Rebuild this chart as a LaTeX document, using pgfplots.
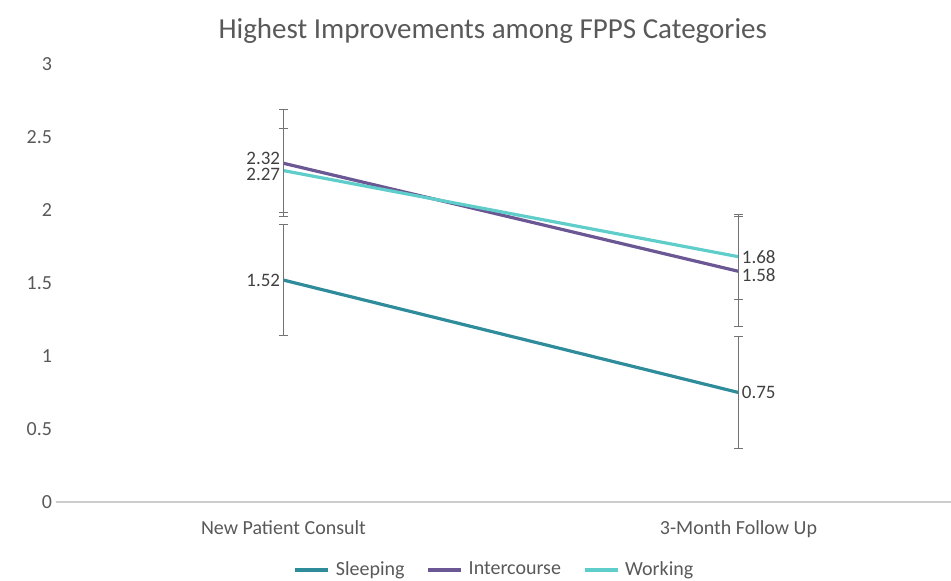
\documentclass[border=0pt]{standalone}
\usepackage{pgfplots}
\pgfplotsset{compat=1.18}
\usepackage{fontspec}
\setmainfont{Carlito}
\definecolor{cSleep}{HTML}{2F8C9B}
\definecolor{cInter}{HTML}{6B5794}
\definecolor{cWork}{HTML}{5FCDCA}
\definecolor{txt}{HTML}{595959}
\definecolor{lbl}{HTML}{404040}
\begin{document}
\begin{tikzpicture}
\useasboundingbox (-28pt,-39pt) rectangle (447.5pt,251pt);
\begin{axis}[
  at={(0,0)}, anchor=south west,
  scale only axis, width=447.5pt, height=219pt,
  xmin=-0.5, xmax=1.467, ymin=0, ymax=3,
  xtick={0,1}, xticklabels={New Patient Consult,3-Month Follow Up},
  ytick={0,0.5,...,3},
  yticklabels={0,0.5,1,1.5,2,2.5,3},
  axis x line*=bottom, axis y line*=left,
  x axis line style={draw=black!20, line width=0.6pt, -},
  y axis line style={draw=none},
  major tick length=0pt,
  ticklabel style={font=\fontsize{10}{11}\selectfont, text=txt},
  yticklabel style={xshift=1.5pt},
  xticklabel style={yshift=-6pt},
  /pgf/number format/assume math mode=true,
  title={Highest Improvements among FPPS Categories},
  title style={at={(axis description cs:0.488,1.048)}, anchor=center, font=\fontsize{14.5}{16}\selectfont, text=txt},
  legend style={at={(axis description cs:0.491,-0.155)}, anchor=center, draw=none, fill=none,
    legend columns=3, font=\fontsize{10}{11}\selectfont, text=txt,
    /tikz/every odd column/.append style={column sep=1pt},
    /tikz/every even column/.append style={column sep=9pt}},
  legend image code/.code={\draw[#1, line width=1.6pt] (0pt,0pt) -- (16.5pt,0pt);},
  legend cell align=left,
  clip=false,
]
\pgfplotsset{err/.style={error bars/.cd, y dir=both, y explicit,
   error bar style={draw=black!55, line width=0.5pt},
   error mark options={rotate=90, mark size=2.2pt, draw=black!55, line width=0.5pt}}}
\addplot[cSleep, line width=1.6pt, mark=none, err] coordinates {(0,1.52) +- (0,0.38) (1,0.75) +- (0,0.385)};
\addlegendentry{Sleeping}
\addplot[cInter, line width=1.6pt, mark=none, err] coordinates {(0,2.32) +- (0,0.365) (1,1.58) +- (0,0.375)};
\addlegendentry{Intercourse}
\addplot[cWork, line width=1.6pt, mark=none, err] coordinates {(0,2.27) +- (0,0.29) (1,1.68) +- (0,0.29)};
\addlegendentry{Working}
% data labels
\pgfplotsset{lab/.style={draw=none, mark=none, forget plot, nodes near coords,
   point meta=explicit symbolic,
   every node near coord/.append style={font=\fontsize{9.5}{10}\selectfont, text=lbl, inner sep=1.5pt, anchor=#1}}}
\addplot[lab=east] coordinates {(0,1.52) [1.52]};
\addplot[lab=east, every node near coord/.append style={yshift=2.5pt}] coordinates {(0,2.32) [2.32]};
\addplot[lab=east, every node near coord/.append style={yshift=-2pt}] coordinates {(0,2.27) [2.27]};
\addplot[lab=west] coordinates {(1,0.75) [0.75] (1,1.68) [1.68]};
\addplot[lab=west, every node near coord/.append style={yshift=-2pt}] coordinates {(1,1.58) [1.58]};
\end{axis}
\end{tikzpicture}
\end{document}
